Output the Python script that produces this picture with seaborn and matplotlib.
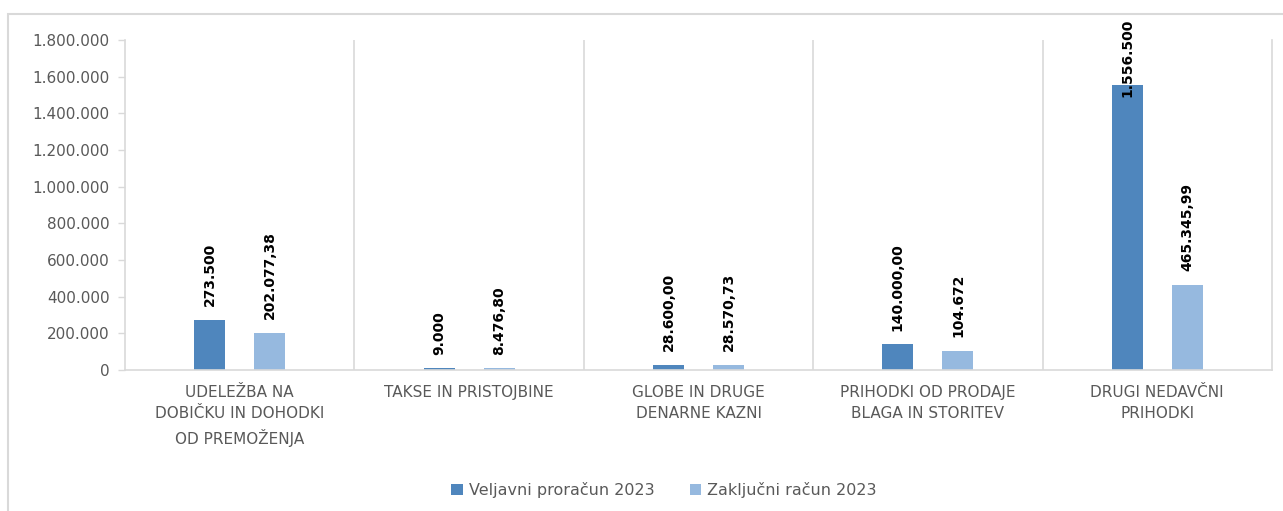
import matplotlib
matplotlib.use('Agg')
import matplotlib.pyplot as plt
import seaborn as sns
import pandas as pd
from matplotlib.patches import Rectangle
from matplotlib.ticker import FuncFormatter

categories = [
    'UDELEŽBA NA\nDOBIČKU IN DOHODKI\nOD PREMOŽENJA',
    'TAKSE IN PRISTOJBINE',
    'GLOBE IN DRUGE\nDENARNE KAZNI',
    'PRIHODKI OD PRODAJE\nBLAGA IN STORITEV',
    'DRUGI NEDAVČNI\nPRIHODKI',
]
series = ['Veljavni proračun 2023', 'Zaključni račun 2023']
veljavni = [273500, 9000, 28600, 140000, 1556500]
zakljucni = [202077.38, 8476.80, 28570.73, 104672, 465345.99]
veljavni_labels = ['273.500', '9.000', '28.600,00', '140.000,00', '1.556.500']
zakljucni_labels = ['202.077,38', '8.476,80', '28.570,73', '104.672', '465.345,99']
yticks = [0, 200000, 400000, 600000, 800000, 1000000, 1200000, 1400000, 1600000, 1800000]

colors = ['#4F86BD', '#96B9DF']
grid_col = '#D9D9D9'
text_col = '#595959'

df = pd.DataFrame({
    'kategorija': categories * 2,
    'serija': [series[0]] * 5 + [series[1]] * 5,
    'vrednost': veljavni + zakljucni,
})

sns.set_theme(style='white')
plt.rcParams['font.family'] = ['DejaVu Sans']

fig = plt.figure(figsize=(12.83, 5.11), dpi=100)
fig.patches.append(Rectangle((8 / 1283, -0.1), 1.1, (511 - 14) / 511 + 0.1,
                             transform=fig.transFigure, fill=False,
                             edgecolor=grid_col, linewidth=1.5))
ax = fig.add_axes([125 / 1283, 141 / 511, (1272 - 125) / 1283, 330 / 511])

sns.barplot(data=df, x='kategorija', y='vrednost', hue='serija', palette=colors,
            width=0.524, gap=0.485, saturation=1, ax=ax, legend=True,
            linewidth=0, edgecolor='none')

ax.set_ylim(0, 1800000)
ax.set_xlim(-0.5, 4.5)
ax.set_yticks(yticks)
ax.yaxis.set_major_formatter(FuncFormatter(lambda v, p: f'{int(v):,}'.replace(',', '.')))
ax.set_xlabel('')
ax.set_ylabel('')

ax.spines['top'].set_visible(False)
for s in ['left', 'bottom', 'right']:
    ax.spines[s].set_color(grid_col)
    ax.spines[s].set_linewidth(1.2)
for xv in [0.5, 1.5, 2.5, 3.5]:
    ax.axvline(xv, color=grid_col, linewidth=1.2, zorder=0)

ax.tick_params(axis='y', length=5, width=1, color=grid_col, labelsize=11,
               labelcolor=text_col, left=True, pad=6)
ax.tick_params(axis='x', length=0, labelsize=11, labelcolor=text_col, pad=11)
for lbl in ax.get_xticklabels():
    lbl.set_linespacing(1.5)

# data labels above bars
ymax = 1800000
for cont, labels in zip(ax.containers, [veljavni_labels, zakljucni_labels]):
    for bar, txt in zip(cont, labels):
        xc = bar.get_x() + bar.get_width() / 2
        top = bar.get_height()
        y = top + 75000
        if y + 450000 > ymax:
            ax.text(xc, 1.065, txt, transform=ax.get_xaxis_transform(), rotation=90,
                    ha='center', va='top', fontsize=10, fontweight='bold',
                    color='black', clip_on=False)
        else:
            ax.text(xc, y, txt, rotation=90, ha='center', va='bottom',
                    fontsize=10, fontweight='bold', color='black')

leg = ax.legend(loc='upper center', bbox_to_anchor=(0.47, -0.295), ncol=2,
                frameon=False, fontsize=11.5, handlelength=0.7, handleheight=0.7,
                handletextpad=0.4, columnspacing=2.2)
for t in leg.get_texts():
    t.set_color(text_col)

fig.savefig('out.png', dpi=100)
